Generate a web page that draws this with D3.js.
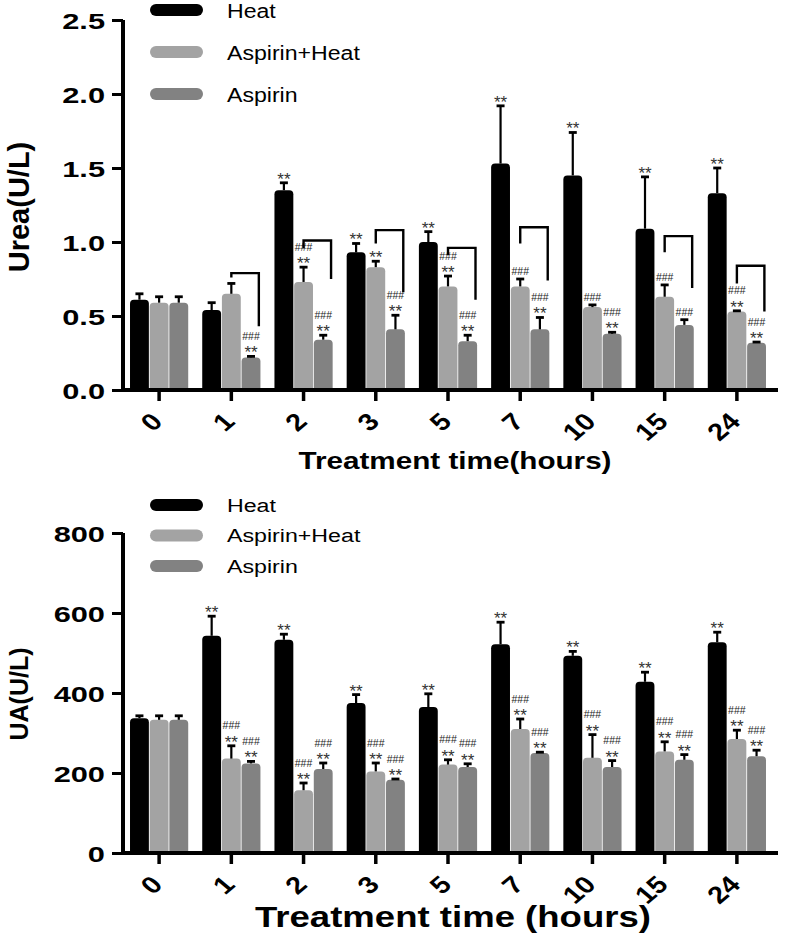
<!DOCTYPE html>
<html><head><meta charset="utf-8">
<script src="https://cdn.jsdelivr.net/npm/d3@7"></script>
<style>body{margin:0;background:#fff} svg{display:block}</style>
</head><body><svg id="c" width="788" height="939"></svg>
<script>
const categories = ["0","1","2","3","5","7","10","15","24"];
const seriesNames = ["Heat","Aspirin+Heat","Aspirin"];

// Urea (U/L)
const ureaHeat        = [0.61, 0.54, 1.35, 0.93, 1.00, 1.53, 1.45, 1.09, 1.33];
const ureaHeatErr     = [0.04, 0.05, 0.05, 0.06, 0.07, 0.39, 0.29, 0.35, 0.17];
const ureaAspHeat     = [0.59, 0.65, 0.73, 0.83, 0.70, 0.70, 0.56, 0.63, 0.53];
const ureaAspHeatErr  = [0.04, 0.07, 0.10, 0.04, 0.07, 0.05, 0.015, 0.08, 0.005];
const ureaAsp         = [0.59, 0.22, 0.34, 0.41, 0.33, 0.41, 0.38, 0.44, 0.32];
const ureaAspErr      = [0.04, 0.007, 0.03, 0.095, 0.04, 0.08, 0.01, 0.035, 0.004];
const ureaHeatSig     = ["", "", "**", "**", "**", "**", "**", "**", "**"];
const ureaAspHeatSig  = ["", "", "###/**", "**", "###/**", "###", "###", "###", "###/**"];
const ureaAspSig      = ["", "###/**", "###/**", "###/**", "###/**", "###/**", "###/**", "###", "###/**"];
// brackets: [category, top value, left-leg end value, right-leg end value]
const ureaBrackets = [["1",0.79,0.76,0.43],["2",1.01,0.96,0.75],["3",1.08,0.99,0.66],["5",0.96,0.91,0.61],["7",1.10,0.99,0.74],["15",1.04,0.93,0.69],["24",0.84,0.72,0.53]];
const ureaTicks = [0, 0.5, 1.0, 1.5, 2.0, 2.5];

// UA (U/L)
const uaHeat       = [337, 543, 533, 375, 365, 522, 493, 428, 527];
const uaHeatErr    = [6, 49, 14, 21, 33, 55, 11, 24, 25];
const uaAspHeat    = [333, 236, 157, 204, 221, 310, 238, 254, 285];
const uaAspHeatErr = [10, 32, 18, 21, 12, 25, 58, 24, 22];
const uaAsp        = [333, 224, 210, 183, 215, 250, 215, 233, 242];
const uaAspErr     = [10, 5, 15, 2, 8, 2, 16, 13, 15];
const uaHeatSig    = ["", "**", "**", "**", "**", "**", "**", "**", "**"];
const uaAspHeatSig = ["", "###/**", "###/**", "###/**", "###/**", "###/**", "###/**", "###/**", "###/**"];
const uaAspSig     = ["", "###/**", "###/**", "###/**", "###/**", "###/**", "###/**", "###/**", "###/**"];
const uaTicks = [0, 200, 400, 600, 800];

const svg = d3.select("#c");
const FONT = "'Liberation Sans', Arial, Helvetica, sans-serif";
const colors = ["#000000", "#a3a3a3", "#828282"];

function drawPanel(o) {
  const g = svg.append("g");
  const x0 = d3.scaleBand().domain(categories).range([o.left, o.right]).paddingInner(0.183).paddingOuter(0.0915);
  const x1 = d3.scaleBand().domain(seriesNames).range([0, x0.bandwidth()]);
  const y = d3.scaleLinear().domain(o.domain).range([o.bottom, o.top]);
  const series = seriesNames.map((s, i) => ({name: s, values: o.values[i], errs: o.errs[i], sig: o.sig[i], color: colors[i]}));
  const bw = x1.bandwidth();

  series.forEach(s => {
    g.append("g").selectAll("path").data(categories).join("path")
      .attr("d", (c, j) => {
        const xl = x0(c) + x1(s.name) + 0.4, w = bw - 0.8, yt = y(s.values[j]), yb = y(0);
        const r = Math.min(4, (yb - yt) / 2);
        return `M${xl},${yb}V${yt + r}Q${xl},${yt} ${xl + r},${yt}H${xl + w - r}Q${xl + w},${yt} ${xl + w},${yt + r}V${yb}Z`;
      })
      .attr("fill", s.color);
  });
  series.forEach(s => {
    const eg = g.append("g").attr("stroke", "#000");
    categories.forEach((c, j) => {
      const cx = x0(c) + x1(s.name) + bw / 2;
      const yv = y(s.values[j]), ye = y(s.values[j] + s.errs[j]);
      eg.append("line").attr("x1", cx).attr("x2", cx).attr("y1", yv).attr("y2", ye).attr("stroke-width", 2.2);
      eg.append("line").attr("x1", cx - 4).attr("x2", cx + 4).attr("y1", ye).attr("y2", ye).attr("stroke-width", 2.8);
      const sig = s.sig[j];
      if (sig) {
        const hasStar = sig.includes("**"), hasHash = sig.includes("###");
        if (hasStar) {
          g.append("text").attr("x", cx).attr("y", ye + 2).attr("text-anchor", "middle")
            .attr("font-family", FONT).attr("font-size", 17).attr("fill", "#333").text("**");
        }
        if (hasHash) {
          g.append("text").attr("x", cx).attr("y", hasStar ? ye - 16.5 : ye - 4).attr("text-anchor", "middle")
            .attr("font-family", FONT).attr("font-size", 10.5).attr("fill", "#222").text("###");
        }
      }
    });
  });

  // brackets
  if (o.brackets) {
    o.brackets.forEach(b => {
      const lx = x0(b[0]) + x1(seriesNames[1]) + bw / 2;
      const rx = x0(b[0]) + x1(seriesNames[2]) + bw - 2;
      g.append("path")
        .attr("d", `M${lx},${y(b[2])}V${y(b[1])}H${rx}V${y(b[3])}`)
        .attr("fill", "none").attr("stroke", "#000").attr("stroke-width", 2.4);
    });
  }

  // y axis
  const ya = g.append("g").attr("transform", `translate(${o.left},0)`)
    .call(d3.axisLeft(y).tickValues(o.ticks).tickSize(11).tickSizeOuter(0).tickFormat(o.fmt));
  ya.select(".domain").attr("stroke-width", 4).attr("d", `M0,${y(o.domain[0]) + 2}V${y(o.ticks[o.ticks.length - 1])}`);
  ya.selectAll(".tick line").attr("stroke-width", 3);
  ya.selectAll(".tick text").attr("x", null).attr("dy", null)
    .attr("transform", "translate(-18,8) scale(1.4,1)")
    .attr("text-anchor", "end").attr("font-family", FONT).attr("font-weight", "bold").attr("font-size", 22).attr("fill", "#000");

  // x axis
  const xa = g.append("g").attr("transform", `translate(0,${o.bottom})`)
    .call(d3.axisBottom(x0).tickSize(11).tickSizeOuter(0));
  xa.select(".domain").attr("stroke-width", 4).attr("d", `M${o.left - 2},0H${o.right + 5}`);
  xa.selectAll(".tick line").attr("stroke-width", 3.5);
  xa.selectAll(".tick text").attr("y", null).attr("dy", null)
    .attr("transform", "translate(5,33) scale(1.2,1) rotate(-45)")
    .attr("text-anchor", "end").attr("font-family", FONT).attr("font-weight", "bold").attr("font-size", 24).attr("fill", "#000");

  // titles
  g.append("text").attr("transform", `translate(${o.yTitleX},${o.yTitleY}) rotate(-90)`)
    .attr("text-anchor", "middle").attr("font-family", FONT).attr("font-size", o.yTitleSize)
    .attr("font-weight", "bold").text(o.yTitle);
  g.append("text").attr("x", o.xTitleX).attr("y", o.xTitleY).attr("text-anchor", "middle")
    .attr("font-family", FONT).attr("font-weight", "bold").attr("font-size", o.xTitleSize)
    .attr("textLength", o.xTitleLen).attr("lengthAdjust", "spacingAndGlyphs").text(o.xTitle);

  // legend
  const lg = g.append("g");
  seriesNames.forEach((s, i) => {
    const cy = o.legendY[i];
    lg.append("rect").attr("x", 150).attr("y", cy - 6).attr("width", 53).attr("height", 12).attr("rx", 6).attr("fill", colors[i]);
    lg.append("text").attr("transform", `translate(227,${cy + o.legendFont * 0.36}) scale(${o.legendStretch},1)`)
      .attr("font-family", FONT).attr("font-size", o.legendFont).attr("fill", "#000").text(s);
  });
}

drawPanel({
  left: 123, right: 773, top: 20, bottom: 390, domain: [0, 2.5], ticks: ureaTicks, fmt: d3.format(".1f"),
  values: [ureaHeat, ureaAspHeat, ureaAsp], errs: [ureaHeatErr, ureaAspHeatErr, ureaAspErr],
  sig: [ureaHeatSig, ureaAspHeatSig, ureaAspSig], brackets: ureaBrackets,
  yTitle: "Urea(U/L)", yTitleX: 29, yTitleY: 207, yTitleSize: 29,
  xTitle: "Treatment time(hours)", xTitleX: 455, xTitleY: 469, xTitleSize: 24, xTitleLen: 313,
  legendY: [10, 52, 94], legendFont: 21, legendStretch: 1.1
});
drawPanel({
  left: 123, right: 773, top: 533, bottom: 853, domain: [0, 800], ticks: uaTicks, fmt: d3.format("d"),
  values: [uaHeat, uaAspHeat, uaAsp], errs: [uaHeatErr, uaAspHeatErr, uaAspErr],
  sig: [uaHeatSig, uaAspHeatSig, uaAspSig], brackets: null,
  yTitle: "UA(U/L)", yTitleX: 28, yTitleY: 694, yTitleSize: 25,
  xTitle: "Treatment time (hours)", xTitleX: 453, xTitleY: 927, xTitleSize: 30, xTitleLen: 396,
  legendY: [505, 535.5, 566], legendFont: 19, legendStretch: 1.22
});
</script></body></html>
